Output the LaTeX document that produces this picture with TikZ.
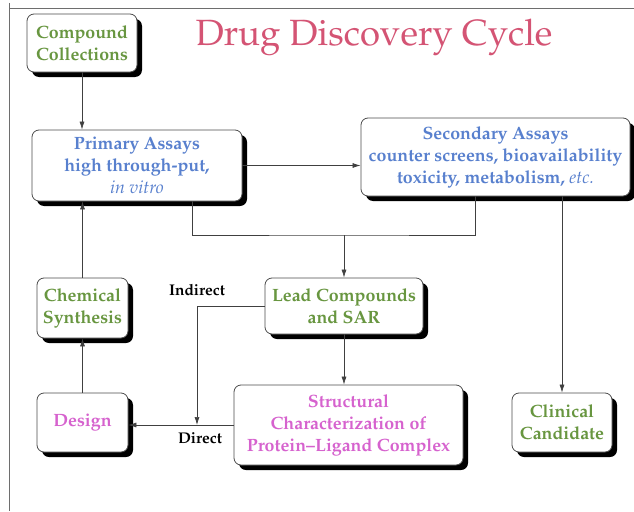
\documentclass[tikz,border=0pt]{standalone}
\usepackage[T1]{fontenc}
\usepackage{mathpazo}
\usetikzlibrary{arrows.meta, shadows}
\definecolor{stagegreen}{RGB}{104, 150, 64}
\definecolor{assayblue}{RGB}{88, 128, 206}
\definecolor{designpink}{RGB}{214, 98, 206}
\definecolor{titlerose}{RGB}{212, 84, 116}
\definecolor{frameink}{RGB}{110, 110, 110}

\begin{document}
\begin{tikzpicture}[x=1pt, y=-1pt,
    every node/.style={align=center, font=\fontsize{17.8}{22}\selectfont\bfseries},
    stage/.style={draw=black!70, line width=0.8pt, rounded corners=7pt, fill=white, inner sep=0pt,
      drop shadow={shadow xshift=5pt, shadow yshift=-5pt, opacity=1, fill=black}},
    flow/.style={draw=black!75, line width=0.7pt, -{Latex[length=8pt, width=5pt]}},
    link/.style={draw=black!75, line width=0.7pt},
    tag/.style={font=\fontsize{15.5}{18}\selectfont\bfseries},
  ]
  \useasboundingbox (0,0) rectangle (634,511);
  \draw[frameink, line width=1pt] (9,3) -- (9,511);
  \draw[frameink, line width=1pt] (9,9) -- (634,9);

  \node[font=\fontsize{36.5}{40}\selectfont, text=titlerose] (title) at (374,37) {Drug Discovery Cycle};

  \node[stage, text=stagegreen, minimum width=110pt, minimum height=58pt] (compound) at (82,43)
    {Compound\\Collections};
  \node[stage, text=assayblue, minimum width=210pt, minimum height=71pt] (primary) at (137,165.5)
    {Primary Assays\\high through-put,\\{\mdseries\itshape in vitro}};
  \node[stage, text=assayblue, minimum width=269pt, minimum height=78pt] (secondary) at (495.5,157)
    {Secondary Assays\\counter screens, bioavailability\\toxicity, metabolism, {\mdseries\itshape etc.}};
  \node[stage, text=stagegreen, minimum width=91pt, minimum height=60pt] (chem) at (82.5,308)
    {Chemical\\Synthesis};
  \node[stage, text=stagegreen, minimum width=158pt, minimum height=56pt] (lead) at (344,306)
    {Lead Compounds\\and SAR};
  \node[stage, text=designpink, minimum width=91pt, minimum height=59pt] (design) at (82.5,422.5)
    {Design};
  \node[stage, text=designpink, minimum width=229pt, minimum height=80pt] (structure) at (348.5,425)
    {Structural\\Characterization of\\Protein--Ligand Complex};
  \node[stage, text=stagegreen, minimum width=100pt, minimum height=59pt] (clinical) at (562,422.5)
    {Clinical\\Candidate};

  \coordinate (merge) at (344,235);
  \coordinate (split) at (197,425);

  \draw[flow] (compound.south) -- (compound.south |- primary.north);
  \draw[flow] (primary.east) -- (primary.east -| secondary.west);
  \draw[link] ([xshift=55pt]primary.south) |- (merge) -| ([xshift=-20pt]secondary.south);
  \draw[flow] (merge) -- (lead.north);
  \draw[flow] (clinical.north |- secondary.south) -- (clinical.north);
  \draw[flow] (lead.south) -- (lead.south |- structure.north);
  \draw[flow] (structure.west) -- (structure.west -| design.east);
  \draw[flow] (lead.west) -| (split);
  \draw[flow] (design.north) -- (chem.south);
  \draw[flow] (chem.north) -- (chem.north |- primary.south);

  \node[tag] (indirect) at (197,290) {Indirect};
  \node[tag] (direct) at (200,438) {Direct};
\end{tikzpicture}
\end{document}
